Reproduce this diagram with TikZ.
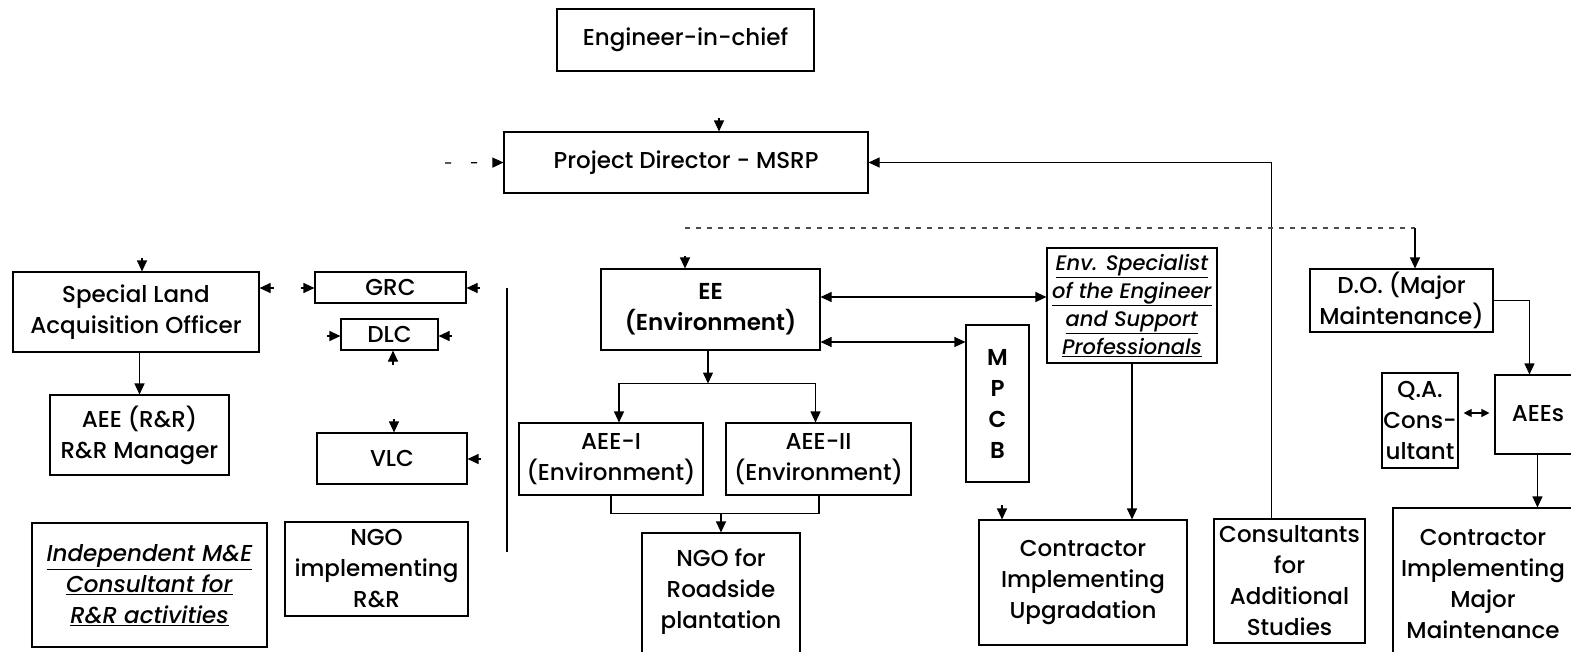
\documentclass[tikz,border=0pt]{standalone}
\usepackage{fontspec}
\setmainfont{Poppins}[UprightFont=* Medium, BoldFont=* SemiBold,
  ItalicFont=* Medium Italic, BoldItalicFont=* SemiBold Italic]
\usetikzlibrary{arrows.meta}

% box given by its corners: [options]{name}{x1}{y1}{x2}{y2}{text}
\newcommand\orgbox[7][]{%
  \node[box,minimum width={(#5-#3)*1pt},minimum height={(#6-#4)*1pt},#1]
    (#2) at ({(#3+#5)/2},{(#4+#6)/2}) {#7};}
\newcommand\ulit[1]{\underline{\textit{#1}}}

\begin{document}
\begin{tikzpicture}[x=1pt,y=-1pt,
  txt/.style={inner sep=0pt,align=center,font=\fontsize{23}{31}\selectfont},
  box/.style={txt,draw,line width=1.1pt},
  boldbox/.style={box,font=\fontsize{23}{31}\selectfont\bfseries},
  conn/.style={line width=1.1pt},
  faint/.style={conn,black!70,dash pattern=on 5pt off 6pt},
  arr/.style={conn,-{Triangle[length=11pt,width=10pt]}},
  dbl/.style={conn,{Triangle[length=11pt,width=10pt]}-{Triangle[length=11pt,width=10pt]}},
  smalldbl/.style={conn,{Triangle[length=8pt,width=8pt]}-{Triangle[length=8pt,width=8pt]}},
]
\useasboundingbox (0,0) rectangle (1571,651);
\clip (0,0) rectangle (1571,651);

% ---- boxes ----
\orgbox{eic}{557}{9}{814}{71}{Engineer-in-chief}
\orgbox{pd}{504}{132}{868}{193}{Project Director - MSRP}

\orgbox{slao}{13}{272}{259}{352}{Special Land\\Acquisition Officer}
\orgbox{grc}{315}{272}{466}{303}{GRC}
\orgbox{dlc}{341}{319}{438}{350}{DLC}
\orgbox{aeerr}{50}{395}{229}{475}{AEE (R\&R)\\R\&R Manager}
\orgbox{vlc}{317}{433}{467}{484}{VLC}
\orgbox{mne}{32}{523}{267}{647}{\ulit{Independent M\&E}\\\ulit{Consultant for}\\\ulit{R\&R activities}}
\orgbox{ngorr}{285}{522}{468}{616}{NGO\\implementing\\R\&R}

\orgbox[boldbox]{ee}{601}{269}{820}{350}{EE\\(Environment)}
\orgbox{aeei}{519}{423}{703}{495}{AEE-I\\(Environment)}
\orgbox{aeeii}{726}{423}{911}{495}{AEE-II\\(Environment)}
\orgbox{ngorp}{642}{533}{800}{690}{}
\node[txt] (ngorp-t) at (721,592) {NGO for\\Roadside\\plantation};

\orgbox[boldbox]{mpcb}{966}{325}{1029}{482}{M\\P\\C\\B}
\orgbox[font=\fontsize{21}{28}\selectfont]{env}{1047}{248}{1217}{363}%
  {\ulit{Env. Specialist}\\\ulit{of the Engineer}\\\ulit{and Support}\\\ulit{Professionals}}
\orgbox{cup}{979}{520}{1187}{645}{Contractor\\Implementing\\Upgradation}
\orgbox{cas}{1214}{519}{1365}{643}{Consultants\\for\\Additional\\Studies}

\orgbox{do}{1310}{269}{1493}{332}{D.O. (Major\\Maintenance)}
\orgbox{qa}{1382}{373}{1458}{468}{Q.A.\\Cons-\\ultant}
\orgbox{aees}{1495}{375}{1640}{454}{}
\node[txt] (aees-t) at (1538,414) {AEEs};
\orgbox{cmm}{1393}{508}{1640}{690}{}
\node[txt] (cmm-t) at (1483,584) {Contractor\\Implementing\\Major\\Maintenance};

% ---- connectors into Project Director ----
\coordinate (pd-in) at (445,163);
\draw[arr,dash pattern=on 6pt off 20pt] (pd-in) -- (pd.west);
\coordinate (eic-stub) at (719,118);
\draw[arr] (eic-stub) -- (eic-stub |- pd.north);
\draw[arr] ([xshift=58pt]cas.north west) |- (pd.east);

% ---- distribution line below Project Director ----
\coordinate (bus-w) at (685,228);
\coordinate (bus-e) at (1415,228);
\draw[faint] (bus-w) -- (bus-e);
\draw[arr] (bus-e) -- (bus-e |- do.north);

% ---- land acquisition side ----
\coordinate (slao-stub) at (142,258);
\draw[arr] (slao-stub) -- (slao-stub |- slao.north);
\coordinate (slao-r) at (274,288);
\draw[arr] (slao-r) -- (slao-r -| slao.east);
\coordinate (grc-l) at (301,288);
\draw[arr] (grc-l) -- (grc-l -| grc.west);
\coordinate (grc-r) at (480,288);
\draw[arr] (grc-r) -- (grc-r -| grc.east);
\coordinate (dlc-l) at (327,336);
\draw[arr] (dlc-l) -- (dlc-l -| dlc.west);
\coordinate (dlc-r) at (452,336);
\draw[arr] (dlc-r) -- (dlc-r -| dlc.east);
\coordinate (dlc-b) at (393,365);
\draw[arr] (dlc-b) -- (dlc-b |- dlc.south);
\coordinate (vlc-t) at (394,419);
\draw[arr] (vlc-t) -- (vlc-t |- vlc.north);
\coordinate (vlc-r) at (481,459);
\draw[arr] (vlc-r) -- (vlc-r -| vlc.east);
\draw[arr] (aeerr.north |- slao.south) -- (aeerr.north);

% separator line
\coordinate (sep-t) at (507,288);
\coordinate (sep-b) at (507,552);
\draw[conn] (sep-t) -- (sep-b);

% ---- environment side ----
\coordinate (ee-stub) at (685,256);
\draw[arr] (ee-stub) -- (ee-stub |- ee.north);
\path ([xshift=-2.5pt]ee.south) ++(0,33) coordinate (split);
\draw[arr] ([xshift=-2.5pt]ee.south) -- (split);
\draw[arr] (split) -| ([xshift=8pt]aeei.north);
\draw[arr] (split) -| ([xshift=-3pt]aeeii.north);
\path (aeei.south) ++(0,18) coordinate (merge);
\draw[conn] (aeei.south) -- (merge) -| ([xshift=0.5pt]aeeii.south);
\draw[arr] (merge -| ngorp.north) -- (ngorp.north);

\path ([yshift=12.5pt]ee.east) coordinate (ee-a);
\draw[dbl] (ee-a) -- (ee-a -| env.west);
\path ([yshift=-32.5pt]ee.east) coordinate (ee-b);
\draw[dbl] (ee-b) -- (ee-b -| mpcb.west);

\draw[arr] (env.south) -- (env.south |- cup.north);
\coordinate (cup-stub) at (1002,505);
\draw[arr] (cup-stub) -- (cup-stub |- cup.north);

% ---- maintenance side ----
\draw[arr] (do.east) -| ([xshift=35pt]aees.north west);
\path ([yshift=7.5pt]qa.east) coordinate (qa-e);
\draw[smalldbl,shorten <=5pt,shorten >=5pt] (qa-e) -- (qa-e -| aees.west);
\draw[arr] ([xshift=43pt]aees.south west) -- ([xshift=43pt]aees.south west |- cmm.north);
\end{tikzpicture}
\end{document}
